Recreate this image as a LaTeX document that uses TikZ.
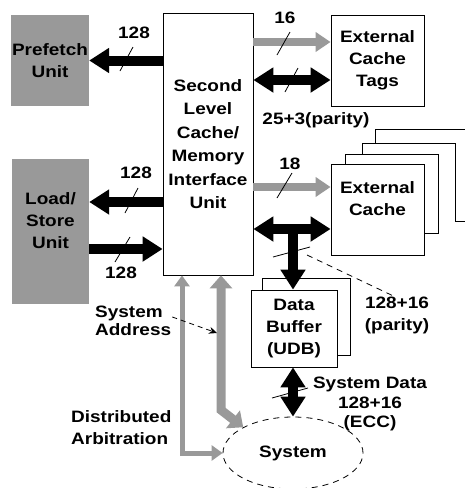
\documentclass[tikz,border=0pt]{standalone}
\usepackage{fontspec}
\setmainfont{Liberation Sans}[FakeStretch=1.15]
\usepackage{tikz}
\usetikzlibrary{arrows.meta,shapes.geometric}

\begin{document}
\begin{tikzpicture}
  [x=1pt,y=-1pt,
    every node/.style={font=\bfseries\fontsize{16.5}{22}\selectfont,align=center,inner sep=1pt},
    box/.style={draw,line width=0.8pt,fill=white,minimum width=93pt,minimum height=91pt},
    unit/.style={fill=black!40,minimum width=77pt},
    word/.style={align=left,anchor=west},
    bus/.style={line width=10pt},
    gbus/.style={draw=black!40,line width=8pt},
    gend/.style={-{Triangle[length=15pt,width=19pt]}},
    >={Triangle[length=20pt,width=24pt]}]
  \useasboundingbox (0,0) rectangle (464,488);

  % cache interface and the units round it
  \node[draw,line width=0.8pt,minimum width=90pt,minimum height=262pt,
        font=\bfseries\fontsize{16.5}{23.5}\selectfont] (n0) at (208,144)
        {Second\\Level\\Cache/\\Memory\\Interface\\Unit};
  \node[unit,minimum height=91pt] (n1) at (50,60.5) {Prefetch\\Unit};
  \node[unit,minimum height=145pt] (n2) at (50.5,231.5) {Load/\\Store\\Unit\\~};
  \node[box] (n3) at (377.5,60.5) {External\\Cache\\Tags};
  % pages stacked behind the external cache
  \draw[line width=0.8pt] (375,143) |- (470,129) (455,221) -- (470,221);
  \draw[line width=0.8pt] (362,154) |- (455,143) -- (455,221);
  \draw[line width=0.8pt] (345,164) |- (438,154) |- (424,233);
  \node[box] (n4) at (377.5,209.5) {External\\Cache\\~};
  \draw[line width=0.8pt,fill=white] (262,278) rectangle (350,355);
  \node[box,minimum width=86pt,minimum height=77pt] (n5) at (294,328.5) {Data\\Buffer\\(UDB)};
  \node[ellipse,draw,line width=0.8pt,dash pattern=on 6pt off 5pt,inner sep=0pt,
        minimum width=140pt,minimum height=72pt] (n6) at (293,453) {System};

  \coordinate (c0) at (0,202);
  \coordinate (c1) at (0,249);
  \coordinate (c2) at (0,42);
  \coordinate (c3) at (0,80);
  \coordinate (c4) at (0,187);
  \coordinate (c5) at (293,229);
  \coordinate (a0) at (182,0);
  \coordinate (a1) at (221,410);

  % buses
  \draw[bus,->] (n0.west |- n1) -- (n1.east);
  \draw[bus,->] (n0.west |- c0) -- (n2.east |- c0);
  \draw[bus,->] (n2.east |- c1) -- (n0.west |- c1);
  \draw[gbus,gend] (n0.east |- c2) -- (n3.west |- c2);
  \draw[bus,<->] (n0.east |- c3) -- (n3.west |- c3);
  \draw[gbus,gend] (n0.east |- c4) -- (n4.west |- c4);
  \draw[bus,<->] (n0.east |- c5) -- (n4.west |- c5);
  \draw[bus,->] (c5) -- (n5.north -| c5);
  \draw[bus,<->] (n5.south -| c5) -- (n6.north -| c5);
  \draw[gbus,line width=5pt,{Triangle[length=11pt,width=15pt]}-{Triangle[length=11pt,width=15pt]}]
    (n0.south -| a0) |- (n6.west);
  \draw[gbus,line width=9pt,{Triangle[length=13pt,width=22pt]}-{Triangle[length=13pt,width=22pt]}]
    (n0.south -| a1) -- (a1) -- (n6.north west);

  % bus widths
  \foreach \x/\y/\dx/\dy in {126.5/59/6.5/12, 131.5/200.5/6.5/12.5, 122.5/249.5/7.5/12.5,
      283.5/43.5/6.5/11.5, 291.5/80/6.5/12, 284.5/185.5/7.5/12.5, 291.5/252/18.5/5, 290/393/18/5}
    \draw[line width=0.8pt] (\x-\dx,\y+\dy) -- (\x+\dx,\y-\dy);
  \node (l0) at (134,33) {128};
  \node (l1) at (136,173) {128};
  \node (l2) at (121,273) {128};
  \node (l3) at (285,17.5) {16};
  \node (l4) at (316,120) {25+3(parity)};
  \node (l5) at (290,164) {18};
  \node (l6) at (397,315) {128+16\\(parity)};
  \node[font=\bfseries\fontsize{16.5}{19.5}\selectfont] (l7) at (370,404) {System Data\\128+16\\(ECC)};
  \node[word,font=\bfseries\fontsize{16.5}{18.5}\selectfont] (l8) at (94,321) {System\\Address};
  \node[word] (l9) at (70,427.5) {Distributed\\Arbitration};

  \coordinate (d0) at (307,255);
  \coordinate (d1) at (217,333);
  \draw[line width=0.8pt,dash pattern=on 6pt off 5pt] (d0) -- ([xshift=-5pt]l6.north);
  \draw[line width=0.8pt,dash pattern=on 5pt off 4pt,-{Stealth[length=8pt,width=7pt]}]
    ([yshift=4pt]l8.east) -- (d1);
\end{tikzpicture}
\end{document}
